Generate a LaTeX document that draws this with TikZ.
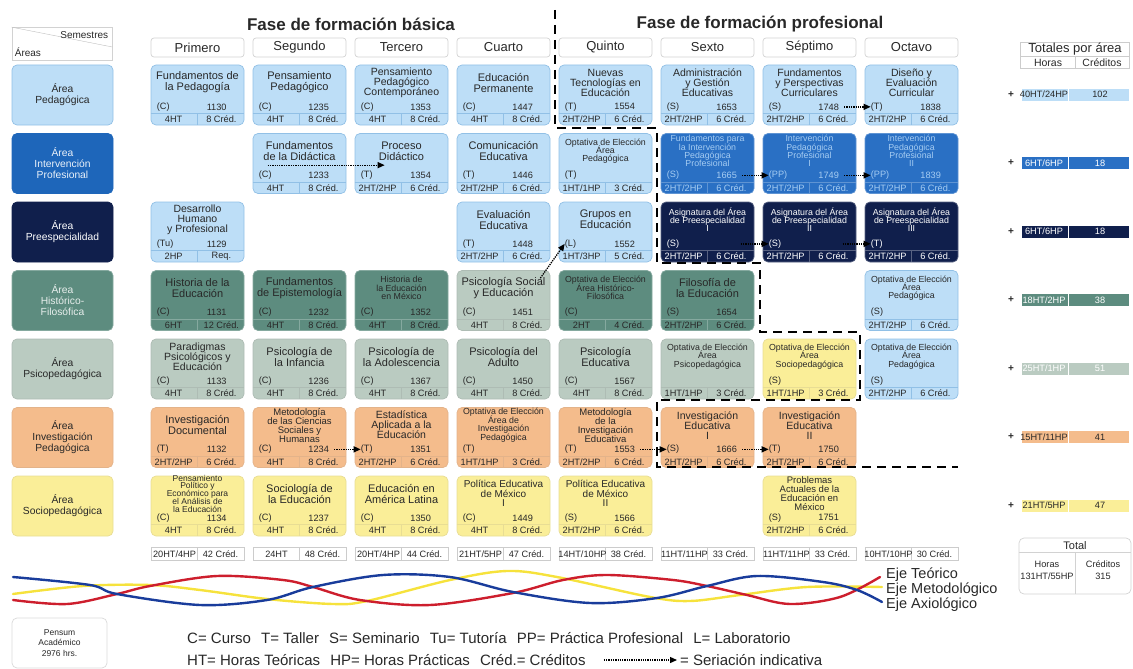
\documentclass[tikz,border=0pt]{standalone}
\usepackage{fontspec}
\setmainfont{Liberation Sans}
\usetikzlibrary{arrows.meta}

\definecolor{textgray}{RGB}{40,40,40}
\definecolor{pedfill}{RGB}{189,222,247}
\definecolor{pedline}{RGB}{145,192,230}
\definecolor{intfill}{RGB}{42,112,196}
\definecolor{intlab}{RGB}{30,102,186}
\definecolor{inttext}{RGB}{165,204,242}
\definecolor{prefill}{RGB}{16,31,76}
\definecolor{hisfill}{RGB}{93,140,127}
\definecolor{psifill}{RGB}{186,203,193}
\definecolor{invfill}{RGB}{244,188,140}
\definecolor{socfill}{RGB}{250,238,152}
\definecolor{ejerojo}{RGB}{205,30,45}
\definecolor{ejeamarillo}{RGB}{246,226,60}
\definecolor{ejeazul}{RGB}{25,60,155}

\newcommand{\apretar}{\lineskiplimit=-20pt\relax}

\tikzset{
  asig/.style={rounded corners=5, minimum width=93, minimum height=60, inner sep=0, line width=0.7},
  titulo/.style={align=center, inner sep=0, font=\fontsize{11}{11}\selectfont\apretar},
  medio/.style={font=\fontsize{10.5}{10}\selectfont\apretar},
  diez/.style={font=\fontsize{10}{9.6}\selectfont\apretar},
  cuatro/.style={font=\fontsize{9.5}{9}\selectfont\apretar},
  cinco/.style={font=\fontsize{8.5}{7.7}\selectfont\apretar},
  chico/.style={font=\fontsize{8.8}{8.4}\selectfont\apretar},
  dato/.style={font=\fontsize{9.2}{10}\selectfont, inner sep=0, draw=none, fill=none},
  ped/.style={fill=pedfill, draw=pedline, text=textgray},
  int/.style={fill=intfill, draw=intfill!75!white, text=inttext},
  pre/.style={fill=prefill, draw=prefill!70!white, text=white},
  his/.style={fill=hisfill, draw=hisfill!75!white, text=textgray},
  psi/.style={fill=psifill, draw=psifill!80!gray, text=textgray},
  inv/.style={fill=invfill, draw=invfill!85!gray, text=textgray},
  soc/.style={fill=socfill, draw=socfill!85!gray, text=textgray},
  lped/.style={fill=pedfill, draw=pedline, text=textgray},
  lint/.style={fill=intlab, draw=intlab, text=white!90!intfill},
  lpre/.style={fill=prefill, draw=prefill, text=white},
  lhis/.style={fill=hisfill, draw=hisfill!75!white, text=white!85!hisfill},
  lpsi/.style={fill=psifill, draw=psifill!80!gray, text=textgray},
  linv/.style={fill=invfill, draw=invfill!85!gray, text=textgray},
  lsoc/.style={fill=socfill, draw=socfill!85!gray, text=textgray},
  area/.style={rounded corners=5, minimum width=101, minimum height=60, align=center, inner sep=0, font=\fontsize{10.3}{11}\selectfont, line width=0.7},
  semestre/.style={draw=gray!35, rounded corners=3, minimum width=93, minimum height=19, inner sep=0, text=textgray, font=\fontsize{13}{14}\selectfont, line width=0.7},
  coltot/.style={draw=gray!40, minimum width=93, minimum height=13, inner sep=0, line width=0.6},
  barra/.style={minimum width=108, minimum height=13, inner sep=0, line width=0.8},
  serie/.style={densely dotted, line width=1.3, -{Triangle[length=7pt,width=6pt]}},
  frontera/.style={line width=2.6, dash pattern=on 9pt off 6pt},
  eje/.style={line width=2.4, line cap=round},
  leyenda/.style={inner sep=0, text=textgray, font=\fontsize{15}{16}\selectfont}
}

% #1 nombre, #2 semestre, #3 area, #4 estilo, #5 titulo, #6 tipo, #7 clave, #8 horas, #9 creditos
\newcommand{\asig}[9]{%
  \node[asig,#4] (#1) at (sem#2 |- area#3) {};
  \draw[#4,fill=none,line width=0.7] ([yshift=12]#1.south west) -- ([yshift=12]#1.south east)
    ([yshift=12]#1.south) -- (#1.south);
  \node[titulo,#4,draw=none,fill=none] (#1x) at ([yshift=-18]#1.north) {#5};
  \node[#4,dato,anchor=west] (#1t) at ([xshift=6,yshift=18.5]#1.south west) {#6};
  \node[#4,dato] (#1n) at ([xshift=66,yshift=18.5]#1.south west) {#7};
  \node[#4,dato] (#1h) at ([xshift=23,yshift=6]#1.south west) {#8};
  \node[#4,dato] (#1c) at ([xshift=-23,yshift=6]#1.south east) {#9};
}

\begin{document}
\begin{tikzpicture}[x=1pt,y=-1pt]
\useasboundingbox (0,0) rectangle (1133,669);

% fases
\node[text=textgray, font=\bfseries\fontsize{17}{20}\selectfont] (fase1) at (351,24) {Fase de formación básica};
\node[text=textgray, font=\bfseries\fontsize{17}{20}\selectfont] (fase2) at (760,24) {Fase de formación profesional};

\node[draw=gray!35, minimum width=100, minimum height=33, inner sep=0, line width=0.7] (esq) at (62,44) {};
\draw[gray!50] (esq.north west) -- ([yshift=-3]esq.east);
\node[anchor=north east, inner sep=0, text=textgray, font=\fontsize{10}{11}\selectfont] (esqs) at ([xshift=-4,yshift=-4]esq.north east) {Semestres};
\node[anchor=south west, inner sep=0, text=textgray, font=\fontsize{10}{11}\selectfont] (esqa) at ([xshift=3,yshift=4]esq.south west) {Áreas};

\foreach \sem [count=\i] in {Primero,Segundo,Tercero,Cuarto,Quinto,Sexto,Séptimo,Octavo}
  \node[semestre] (sem\i) at ({197.5+102*(\i-1)},47.5) {\sem};

\foreach \txt/\sty [count=\i] in {Área\\Pedagógica/lped, Área\\Intervención\\Profesional/lint, Área\\Preespecialidad/lpre, Área\\Histórico-\\Filosófica/lhis, Área\\Psicopedagógica/lpsi, Área\\Investigación\\Pedagógica/linv, Área\\Sociopedagógica/lsoc}
  \node[area,\sty] (area\i) at (62.5,{95+68.5*(\i-1)}) {\txt};

% asignaturas
\asig{c11}{1}{1}{ped}{Fundamentos de\\la Pedagogía}{(C)}{1130}{4HT}{8 Créd.}
\asig{c12}{2}{1}{ped}{Pensamiento\\Pedagógico}{(C)}{1235}{4HT}{8 Créd.}
\asig{c13}{3}{1}{ped,medio}{Pensamiento\\Pedagógico\\Contemporáneo}{(C)}{1353}{4HT}{8 Créd.}
\asig{c14}{4}{1}{ped}{Educación\\Permanente}{(C)}{1447}{4HT}{8 Créd.}
\asig{c15}{5}{1}{ped,medio}{Nuevas\\Tecnologías en\\Educación}{(T)}{1554}{2HT/2HP}{6 Créd.}
\asig{c16}{6}{1}{ped,medio}{Administración\\y Gestión\\Educativas}{(S)}{1653}{2HT/2HP}{6 Créd.}
\asig{c17}{7}{1}{ped,medio}{Fundamentos\\y Perspectivas\\Curriculares}{(S)}{1748}{2HT/2HP}{6 Créd.}
\asig{c18}{8}{1}{ped,medio}{Diseño y\\Evaluación\\Curricular}{(T)}{1838}{2HT/2HP}{6 Créd.}

\asig{c22}{2}{2}{ped}{Fundamentos\\de la Didáctica}{(C)}{1233}{4HT}{8 Créd.}
\asig{c23}{3}{2}{ped}{Proceso\\Didáctico}{(T)}{1354}{2HT/2HP}{6 Créd.}
\asig{c24}{4}{2}{ped}{Comunicación\\Educativa}{(T)}{1446}{2HT/2HP}{6 Créd.}
\asig{c25}{5}{2}{ped,chico}{Optativa de Elección\\Área\\Pedagógica}{(T)}{}{1HT/1HP}{3 Créd.}
\asig{c26}{6}{2}{int,chico}{Fundamentos para\\la Intervención\\Pedagógica\\Profesional}{(S)}{1665}{2HT/2HP}{6 Créd.}
\asig{c27}{7}{2}{int,chico}{Intervención\\Pedagógica\\Profesional\\I}{(PP)}{1749}{2HT/2HP}{6 Créd.}
\asig{c28}{8}{2}{int,chico}{Intervención\\Pedagógica\\Profesional\\II}{(PP)}{1839}{2HT/2HP}{6 Créd.}

\asig{c31}{1}{3}{ped,medio}{Desarrollo\\Humano\\y Profesional}{(Tu)}{1129}{2HP}{Req.}
\asig{c34}{4}{3}{ped}{Evaluación\\Educativa}{(T)}{1448}{2HT/2HP}{6 Créd.}
\asig{c35}{5}{3}{ped}{Grupos en\\Educación}{(L)}{1552}{1HT/3HP}{5 Créd.}
\asig{c36}{6}{3}{pre,chico}{Asignatura del Área\\de Preespecialidad\\I}{(S)}{}{2HT/2HP}{6 Créd.}
\asig{c37}{7}{3}{pre,chico}{Asignatura del Área\\de Preespecialidad\\II}{(S)}{}{2HT/2HP}{6 Créd.}
\asig{c38}{8}{3}{pre,chico}{Asignatura del Área\\de Preespecialidad\\III}{(T)}{}{2HT/2HP}{6 Créd.}

\asig{c41}{1}{4}{his}{Historia de la\\Educación}{(C)}{1131}{6HT}{12 Créd.}
\asig{c42}{2}{4}{his}{Fundamentos\\de Epistemología}{(C)}{1232}{4HT}{8 Créd.}
\asig{c43}{3}{4}{his,chico}{Historia de\\la Educación\\en México}{(C)}{1352}{4HT}{8 Créd.}
\asig{c44}{4}{4}{psi}{Psicología Social\\y Educación}{(C)}{1451}{4HT}{8 Créd.}
\asig{c45}{5}{4}{his,chico}{Optativa de Elección\\Área Histórico-\\Filosófica}{(C)}{}{2HT}{4 Créd.}
\asig{c46}{6}{4}{his}{Filosofía de\\la Educación}{(S)}{1654}{2HT/2HP}{6 Créd.}
\asig{c48}{8}{4}{ped,chico}{Optativa de Elección\\Área\\Pedagógica}{(S)}{}{2HT/2HP}{6 Créd.}

\asig{c51}{1}{5}{psi,medio}{Paradigmas\\Psicológicos y\\Educación}{(C)}{1133}{4HT}{8 Créd.}
\asig{c52}{2}{5}{psi}{Psicología de\\la Infancia}{(C)}{1236}{4HT}{8 Créd.}
\asig{c53}{3}{5}{psi}{Psicología de\\la Adolescencia}{(C)}{1367}{4HT}{8 Créd.}
\asig{c54}{4}{5}{psi}{Psicología del\\Adulto}{(C)}{1450}{4HT}{8 Créd.}
\asig{c55}{5}{5}{psi}{Psicología\\Educativa}{(C)}{1567}{4HT}{8 Créd.}
\asig{c56}{6}{5}{psi,chico}{Optativa de Elección\\Área\\Psicopedagógica}{}{}{1HT/1HP}{3 Créd.}
\asig{c57}{7}{5}{soc,chico}{Optativa de Elección\\Área\\Sociopedagógica}{(S)}{}{1HT/1HP}{3 Créd.}
\asig{c58}{8}{5}{ped,chico}{Optativa de Elección\\Área\\Pedagógica}{(S)}{}{2HT/2HP}{6 Créd.}

\asig{c61}{1}{6}{inv}{Investigación\\Documental}{(T)}{1132}{2HT/2HP}{6 Créd.}
\asig{c62}{2}{6}{inv,cuatro}{Metodología\\de las Ciencias\\Sociales y\\Humanas}{(C)}{1234}{4HT}{8 Créd.}
\asig{c63}{3}{6}{inv,medio}{Estadística\\Aplicada a la\\Educación}{(T)}{1351}{2HT/2HP}{6 Créd.}
\asig{c64}{4}{6}{inv,chico}{Optativa de Elección\\Área de\\Investigación\\Pedagógica}{(T)}{}{1HT/1HP}{3 Créd.}
\asig{c65}{5}{6}{inv,cuatro}{Metodología\\de la\\Investigación\\Educativa}{(T)}{1553}{2HT/2HP}{6 Créd.}
\asig{c66}{6}{6}{inv,medio}{Investigación\\Educativa\\I}{(S)}{1666}{2HT/2HP}{6 Créd.}
\asig{c67}{7}{6}{inv,medio}{Investigación\\Educativa\\II}{(T)}{1750}{2HT/2HP}{6 Créd.}

\asig{c71}{1}{7}{soc,cinco}{Pensamiento\\Político y\\Económico para\\el Análisis de\\la Educación}{(C)}{1134}{4HT}{8 Créd.}
\asig{c72}{2}{7}{soc}{Sociología de\\la Educación}{(C)}{1237}{4HT}{8 Créd.}
\asig{c73}{3}{7}{soc}{Educación en\\América Latina}{(C)}{1350}{4HT}{8 Créd.}
\asig{c74}{4}{7}{soc,diez}{Política Educativa\\de México\\I}{(C)}{1449}{4HT}{8 Créd.}
\asig{c75}{5}{7}{soc,diez}{Política Educativa\\de México\\II}{(S)}{1566}{2HT/2HP}{6 Créd.}
\asig{c77}{7}{7}{soc,cuatro}{Problemas\\Actuales de la\\Educación en\\México}{(S)}{1751}{2HT/2HP}{6 Créd.}

% seriacion
\draw[serie] ([xshift=15,yshift=-32]c22.north west) -- ([xshift=30,yshift=-32]c23.north west);
\draw[serie] ([xshift=5]c17n.east) -- (c18t.west);
\draw[serie] ([xshift=5]c26n.east) -- (c27t.west);
\draw[serie] ([xshift=5]c27n.east) -- (c28t.west);
\draw[serie] ([xshift=14]c36n.center) -- (c37t.west);
\draw[serie] ([xshift=14]c37n.center) -- (c38t.west);
\draw[serie] ([xshift=-10,yshift=-8]c44.north east) -- (c35t.west);
\draw[serie] ([xshift=5]c62n.east) -- (c63t.west);
\draw[serie] ([xshift=5]c65n.east) -- (c66t.west);
\draw[serie] ([xshift=5]c66n.east) -- (c67t.west);

% frontera entre fases
\draw[frontera] (555,10) -- (555,128) -- (657,128) -- (657,263) -- (760,263) -- (760,332)
  -- (860,332) -- (860,400) -- (657,400) -- (657,467) -- (958,467);

% totales por semestre
\foreach \hor/\cre [count=\i] in {{20HT/4HP}/42,24HT/48,{20HT/4HP}/44,{21HT/5HP}/47,{14HT/10HP}/38,{11HT/11HP}/33,{11HT/11HP}/33,{10HT/10HP}/30} {
  \node[coltot] (ct\i) at (sem\i |- 0,554) {};
  \draw[gray!40, line width=0.6] (ct\i.north) -- (ct\i.south);
  \node[dato, text=textgray] (cth\i) at ([xshift=-23]ct\i.center) {\hor};
  \node[dato, text=textgray] (ctc\i) at ([xshift=23]ct\i.center) {\cre\ Créd.};
}

% totales por area
\node[draw=gray!40, minimum width=109, minimum height=14, inner sep=0, line width=0.6, text=textgray, font=\fontsize{13}{14}\selectfont] (tarea) at (1075,49) {Totales por área};
\node[draw=gray!40, minimum width=109, minimum height=12, inner sep=0, line width=0.6, anchor=north] (tcab) at (tarea.south) {};
\draw[gray!40, line width=0.6] (tcab.north) -- (tcab.south);
\node[inner sep=0, text=textgray, font=\fontsize{10.5}{12}\selectfont] (tcabh) at ([xshift=-27]tcab.center) {Horas};
\node[inner sep=0, text=textgray, font=\fontsize{10.5}{12}\selectfont] (tcabc) at ([xshift=27]tcab.center) {Créditos};

\foreach \hor/\cre/\sty/\col [count=\i] in {{40HT/24HP}/102/ped/textgray,{6HT/6HP}/18/int/white,{6HT/6HP}/18/pre/white,{18HT/2HP}/38/his/white,{25HT/1HP}/51/psi/white,{15HT/11HP}/41/inv/textgray,{21HT/5HP}/47/soc/textgray} {
  \node[inner sep=0, text=textgray, font=\bfseries\fontsize{10}{12}\selectfont] (mas\i) at (1011,{94.5+68.5*(\i-1)}) {+};
  \node[barra,\sty,draw=white] (tot\i) at (1075,{94.5+68.5*(\i-1)}) {};
  \draw[white, line width=0.8] ([xshift=-7]tot\i.north) -- ([xshift=-7]tot\i.south);
  \node[dato, text=\col] (toth\i) at ([xshift=-31]tot\i.center) {\hor};
  \node[dato, text=\col] (totc\i) at ([xshift=25]tot\i.center) {\cre};
}

% total general
\node[draw=gray!35, rounded corners=5, minimum width=112, minimum height=56, inner sep=0, line width=0.7] (total) at (1075,566) {};
\draw[gray!35, line width=0.7] ([yshift=-15]total.north west) -- ([yshift=-15]total.north east)
  ([yshift=-15]total.north) -- (total.south);
\node[inner sep=0, text=textgray, font=\fontsize{11}{12}\selectfont] (totalt) at ([yshift=-8]total.north) {Total};
\node[dato, text=textgray] (totalh) at ([xshift=-28,yshift=-27]total.north) {Horas};
\node[dato, text=textgray] (totalhv) at ([xshift=-28,yshift=-39]total.north) {131HT/55HP};
\node[dato, text=textgray] (totalc) at ([xshift=28,yshift=-27]total.north) {Créditos};
\node[dato, text=textgray] (totalcv) at ([xshift=28,yshift=-39]total.north) {315};

% ejes
\draw[eje, ejeamarillo] plot[smooth, tension=0.55] coordinates {(13,594) (83,586) (150,585) (200,590) (267,599) (333,604) (367,601) (450,580) (507,571) (557,577) (650,597) (690,601) (740,595) (807,587) (882,587)};
\draw[eje, ejerojo] plot[smooth, tension=0.55] coordinates {(13,600) (67,604) (117,594) (150,586) (217,576) (283,580) (313,587) (360,600) (430,605) (513,593) (563,580) (607,575) (673,580) (707,586) (747,595) (790,604) (840,597) (880,577)};
\draw[eje, ejeazul] plot[smooth, tension=0.55] coordinates {(13,577) (90,585) (117,594) (200,605) (267,600) (313,587) (383,575) (450,577) (513,592) (590,603) (657,598) (707,586) (757,576) (823,582) (857,590) (882,602)};
\node[leyenda, anchor=west, font=\fontsize{14.5}{15}\selectfont] (ejet) at (886,575) {Eje Teórico};
\node[leyenda, anchor=west, font=\fontsize{14.5}{15}\selectfont] (ejem) at (886,590) {Eje Metodológico};
\node[leyenda, anchor=west, font=\fontsize{14.5}{15}\selectfont] (ejea) at (886,605) {Eje Axiológico};

% leyenda
\node[draw=gray!30, rounded corners=5, minimum width=95, minimum height=50, inner sep=0, line width=0.7, align=center, text=textgray, font=\fontsize{8.5}{10.5}\selectfont] (pensum) at (59.5,643) {Pensum\\Académico\\2976 hrs.};
\node[leyenda, anchor=west] (ley1) at (187,638) {C= Curso\hspace{6pt} T= Taller\hspace{6pt} S= Seminario\hspace{6pt} Tu= Tutoría\hspace{6pt} PP= Práctica Profesional\hspace{6pt} L= Laboratorio};
\node[leyenda, anchor=west] (ley2) at (187,660) {HT= Horas Teóricas\hspace{6pt} HP= Horas Prácticas\hspace{6pt} Créd.= Créditos};
\node[leyenda, anchor=west] (ley3) at (680,660) {= Seriación indicativa};
\draw[serie] ([xshift=18]ley2.east) -- ([xshift=-3]ley3.west);

\end{tikzpicture}
\end{document}
